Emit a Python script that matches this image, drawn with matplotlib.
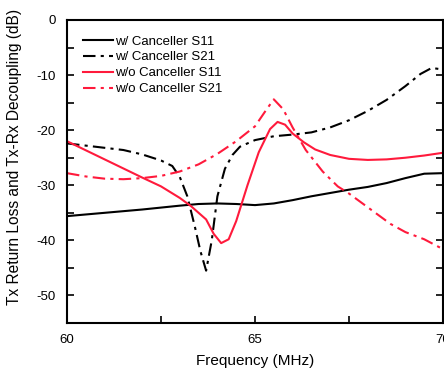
import matplotlib.pyplot as plt
from matplotlib.ticker import MultipleLocator

plt.rcParams['font.family'] = ['Liberation Sans', 'DejaVu Sans']
plt.rcParams['axes.unicode_minus'] = False

# Frequency points (MHz) and values (dB)
f_s11_w = [60, 61, 62, 63, 63.5, 64, 64.5, 65, 65.5, 66, 66.5, 67, 67.5, 68, 68.5, 69, 69.5, 70]
s11_w = [-35.6, -35.0, -34.4, -33.7, -33.4, -33.3, -33.4, -33.6, -33.3, -32.7, -32.0, -31.4, -30.8, -30.3, -29.6, -28.7, -27.9, -27.8]

f_s21_w = [60, 60.5, 61, 61.5, 62, 62.5, 62.8, 63.0, 63.2, 63.4, 63.55, 63.7, 63.85, 64.0, 64.2, 64.4, 64.6,
           65.0, 65.5, 66.0, 66.5, 67.0, 67.5, 68.0, 68.5, 69.0, 69.4, 69.7, 70]
s21_w = [-22.4, -22.8, -23.2, -23.6, -24.4, -25.5, -26.5, -28.5, -32.0, -37.5, -42.0, -45.5, -40.0, -32.0, -27.0, -24.5, -23.0,
         -21.8, -21.1, -20.8, -20.4, -19.5, -18.2, -16.5, -14.5, -12.0, -9.8, -8.7, -9.0]

f_s11_wo = [60, 61, 62, 62.5, 63, 63.3, 63.7, 63.9, 64.1, 64.3, 64.5, 64.8, 65.1, 65.4, 65.6, 65.8, 66.0, 66.3,
            66.6, 67.0, 67.5, 68.0, 68.5, 69.0, 69.5, 70]
s11_wo = [-22.0, -25.3, -28.6, -30.2, -32.3, -33.8, -36.2, -38.8, -40.5, -39.8, -36.5, -30.0, -24.0, -19.8, -18.5, -19.0, -20.6, -22.2,
          -23.5, -24.5, -25.2, -25.4, -25.3, -25.0, -24.6, -24.1]

f_s21_wo = [60, 60.5, 61, 61.5, 62, 62.5, 63, 63.5, 64.0, 64.5, 65.0, 65.3, 65.5, 65.75, 66.0, 66.35, 66.8,
            67.2, 67.5, 68.0, 68.6, 69.0, 69.5, 70]
s21_wo = [-27.8, -28.4, -28.8, -28.9, -28.7, -28.3, -27.5, -26.2, -24.3, -22.0, -19.3, -16.3, -14.4, -16.2, -19.5, -23.6, -27.5,
          -30.2, -31.5, -34.0, -37.0, -38.5, -39.8, -41.6]

red = '#ff1a3c'
dashdot = (0, (6, 2.5, 1.5, 2.5))

fig = plt.figure(figsize=(4.44, 3.72), dpi=100)
ax = fig.add_axes([67 / 444, 1 - 323 / 372, 376 / 444, 303 / 372])

ax.plot(f_s11_w, s11_w, color='black', lw=1.5, label='w/ Canceller S11')
ax.plot(f_s21_w, s21_w, color='black', lw=1.5, linestyle=dashdot, label='w/ Canceller S21')
ax.plot(f_s11_wo, s11_wo, color=red, lw=1.5, label='w/o Canceller S11')
ax.plot(f_s21_wo, s21_wo, color=red, lw=1.5, linestyle=dashdot, label='w/o Canceller S21')

ax.set_xlim(60, 70)
ax.set_ylim(-55, 0)
ax.xaxis.set_major_locator(MultipleLocator(5))
ax.xaxis.set_minor_locator(MultipleLocator(2.5))
ax.yaxis.set_major_locator(MultipleLocator(10))
ax.yaxis.set_minor_locator(MultipleLocator(5))
ax.tick_params(which='both', direction='in', right=True, labelsize=9.5, length=5, width=1.2)
ax.tick_params(axis='x', pad=8)
ax.tick_params(axis='y', pad=8)
for s in ax.spines.values():
    s.set_linewidth(1.5)

ax.set_xlabel('Frequency (MHz)', fontsize=11, labelpad=6)
ax.set_ylabel('Tx Return Loss and Tx-Rx Decoupling (dB)', fontsize=11.2)
ax.yaxis.set_label_coords(-0.12, 0.548)

ax.legend(loc='upper left', frameon=False, fontsize=9.5, handlelength=2.27, handletextpad=0.15,
          labelspacing=0.28, borderaxespad=0, bbox_to_anchor=(0.028, 0.967))

fig.savefig('out.png', dpi=100)
